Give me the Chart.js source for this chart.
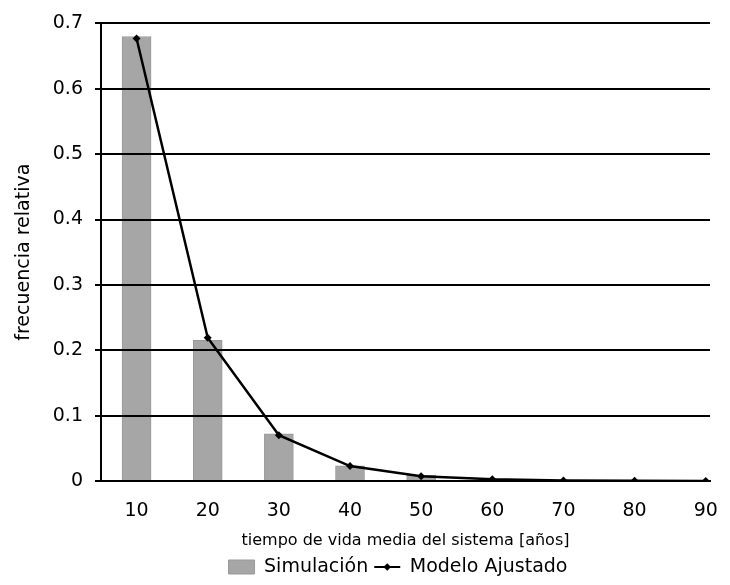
<!DOCTYPE html>
<html>
<head>
<meta charset="utf-8">
<script src="https://cdn.jsdelivr.net/npm/chart.js@4/dist/chart.umd.min.js"></script>
<style>
  html, body { margin: 0; padding: 0; background: #fff; }
  #wrap { width: 730px; height: 585px; }
</style>
</head>
<body>
<div id="wrap"><canvas id="c" width="730" height="585"></canvas></div>
<script>
// tiempo de vida media [años]
const years = [10, 20, 30, 40, 50, 60, 70, 80, 90];
// frecuencia relativa
const simulacion = [0.680, 0.215, 0.072, 0.0233, 0.0087, 0.0015, 0.0005, 0.0002, 0.0001];
const modelo = [0.677, 0.219, 0.070, 0.0229, 0.0073, 0.0025, 0.0008, 0.0003, 0.0001];
const yTicks = [0, 0.1, 0.2, 0.3, 0.4, 0.5, 0.6, 0.7];

Chart.defaults.font.family = '"DejaVu Sans", Verdana, sans-serif';
Chart.defaults.color = '#000';

// redraw horizontal grid over the bars, under the line
const gridOverBars = {
    id: 'gridOverBars',
    afterDatasetDraw(chart, args) {
        if (args.index === 0) chart.scales.y.drawGrid(chart.chartArea);
    },
};

// legend sits a little right of the canvas centre in the original
const legendShift = {
    id: 'legendShift',
    afterLayout(chart) {
        const lg = chart.legend;
        lg.left += 43; lg.right += 43;
        lg.top += 1.5; lg.bottom += 1.5;
    },
};

// small marker on the line legend item
const legendDot = {
    id: 'legendDot',
    afterDraw(chart) {
        const box = chart.legend.legendHitBoxes[1];
        if (!box) return;
        const cx = box.left + 13, cy = box.top + box.height / 2;
        const ctx = chart.ctx;
        ctx.save();
        ctx.fillStyle = '#000';
        ctx.beginPath();
        ctx.moveTo(cx, cy - 3.8);
        ctx.lineTo(cx + 3.8, cy);
        ctx.lineTo(cx, cy + 3.8);
        ctx.lineTo(cx - 3.8, cy);
        ctx.closePath();
        ctx.fill();
        ctx.restore();
    },
};

new Chart(document.getElementById('c'), {
    type: 'bar',
    data: {
        datasets: [
            {
                type: 'bar', label: 'Simulación', order: 2,
                data: years.map((x, i) => ({ x, y: simulacion[i] })),
                backgroundColor: '#a6a6a6', borderColor: '#999', borderWidth: 1,
                barThickness: 29,
            },
            {
                type: 'line', label: 'Modelo Ajustado', order: 1,
                data: years.map((x, i) => ({ x, y: modelo[i] })),
                borderColor: '#000', backgroundColor: '#000', borderWidth: 2.5,
                tension: 0, pointStyle: 'rectRot', pointRadius: 4,
                pointBackgroundColor: '#000', pointBorderWidth: 0,
            },
        ],
    },
    options: {
        responsive: false,
        animation: false,
        layout: { padding: { top: 22, right: 20, left: 0, bottom: 0 } },
        plugins: {
            tooltip: { enabled: false },
            legend: {
                position: 'bottom',
                labels: {
                    usePointStyle: true, pointStyleWidth: 26, boxHeight: 14,
                    padding: 6, font: { size: 19 },
                    generateLabels: (chart) => chart.data.datasets.map((ds, i) => ({
                        text: ds.label, datasetIndex: i, hidden: false,
                        fillStyle: ds.backgroundColor, strokeStyle: ds.borderColor,
                        lineWidth: i === 0 ? 1 : 2,
                        pointStyle: i === 0 ? 'rect' : 'line',
                        fontColor: '#000',
                    })),
                },
            },
        },
        scales: {
            x: {
                type: 'linear', min: 5, max: 90.6, offset: false,
                afterBuildTicks: (axis) => { axis.ticks = years.map((v) => ({ value: v })); },
                afterFit: (axis) => { axis.height = 69; },
                grid: { display: false, offset: false },
                border: { display: true, color: '#000', width: 2 },
                ticks: { padding: 11, font: { size: 19 } },
                title: {
                    display: true, text: 'tiempo de vida media del sistema [años]',
                    font: { size: 16 }, padding: { top: 10, bottom: 0 },
                },
            },
            y: {
                min: 0, max: 0.7,
                afterBuildTicks: (axis) => { axis.ticks = yTicks.map((v) => ({ value: v })); },
                afterFit: (axis) => { axis.width = 101; },
                grid: { color: '#000', lineWidth: 2, tickLength: 6, tickColor: '#000' },
                border: { display: true, color: '#000', width: 2 },
                ticks: { padding: 12, font: { size: 19 } },
                title: {
                    display: true, text: 'frecuencia relativa',
                    font: { size: 19 }, padding: { top: 13, bottom: 0 },
                },
            },
        },
    },
    plugins: [gridOverBars, legendShift, legendDot],
});
</script>
</body>
</html>
